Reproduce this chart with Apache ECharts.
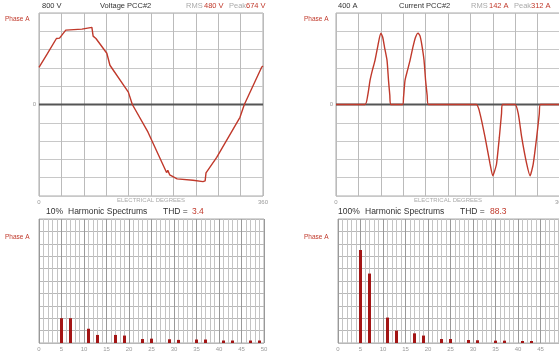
<!DOCTYPE html>
<html>
<head>
<meta charset="utf-8">
<script src="https://cdn.jsdelivr.net/npm/echarts@6/dist/echarts.min.js"></script>
<style>
  html, body { margin: 0; padding: 0; background: #fff; }
  #chart { width: 559px; height: 355px; }
</style>
</head>
<body>
<div id="chart"></div>
<script>
// voltage waveform, phase A (degrees / volts)
const voltageDeg = [0, 13, 28, 30.5, 33, 43, 69, 85, 87, 91.5, 109, 114, 143.6, 150, 175, 205, 207, 210, 222, 247.5, 263.6, 267, 268.4, 285.6, 323, 330, 358, 360]
const voltageVal = [325, 440, 577, 590, 580, 650, 659, 674, 598, 577, 448, 343, 108, 0, -240, -595, -576, -615, -650, -662, -674, -668, -598, -463, -112, 0, 328, 335]

// current waveform, phase A (degrees / amps)
const currentDeg = [0, 46.6, 51, 54.7, 58.5, 62.7, 67.5, 72, 75, 78, 82, 84.4, 86.5, 88,
  107, 108.5, 110.9, 115, 119, 124, 128, 132, 135, 138, 141.5, 144, 146.5, 148.5,
  225.5, 231.5, 239.6, 247.6, 252, 255, 258, 262.5, 266, 267.5,
  287.8, 293, 298.5, 306.5, 312, 314.5, 317, 322.5, 326.7, 328.5, 360]
const currentVal = [0, 0, 40, 105, 150, 193, 260, 312, 295, 250, 193, 105, 40, 0,
  0, 30, 105, 150, 193, 255, 295, 312, 300, 260, 193, 105, 40, 0,
  0, -41, -144, -260, -312, -290, -260, -144, -40, 0,
  0, -41, -144, -260, -312, -290, -260, -144, -41, 0, 0]

// harmonic spectra
const orders = [5, 7, 11, 13, 17, 19, 23, 25, 29, 31, 35, 37, 41, 43, 47, 49]
const voltageHarm = [2.0, 2.0, 1.15, 0.65, 0.65, 0.6, 0.32, 0.35, 0.3, 0.25, 0.28, 0.28, 0.2, 0.2, 0.2, 0.2]
const currentHarm = [75, 56, 20.5, 10, 7.8, 6, 3.2, 3.2, 2.4, 2.2, 1.9, 1.9, 1.6, 1.6, 0, 0]
const harmTicks = [0, 5, 10, 15, 20, 25, 30, 35, 40, 45, 50]

const RED = "#c0392b"
const GRAY = "#999"
const FONT = "Liberation Sans"

const zip = (a, b) => a.map((v, i) => [v, b[i]])

const chart = echarts.init(document.getElementById("chart"))

const waveX = (gi) => ({
  gridIndex: gi,
  type: "value",
  min: 0,
  max: 360,
  interval: 36,
  axisLine: { show: false },
  axisTick: { show: false },
  axisLabel: {
    color: GRAY, fontSize: 6, fontFamily: FONT, margin: 3,
    formatter: (v) => (v === 0 || v === 360 ? String(v) : ""),
  },
  splitLine: { lineStyle: { color: "#bbb", width: 1 } },
})

const waveY = (gi, max) => ({
  gridIndex: gi,
  type: "value",
  min: -max,
  max: max,
  interval: max / 5,
  axisLine: { show: false },
  axisTick: { show: false },
  axisLabel: {
    color: GRAY, fontSize: 6, fontFamily: FONT, margin: 3,
    formatter: (v) => (v === 0 ? "0" : ""),
  },
  splitLine: { lineStyle: { color: "#c8c8c8", width: 1 } },
})

const harmX = (gi) => ({
  gridIndex: gi,
  type: "value",
  min: 0,
  max: 50,
  interval: 5,
  axisLine: { show: false },
  axisTick: { show: false },
  axisLabel: {
    color: GRAY, fontSize: 6, fontFamily: FONT, margin: 3,
    formatter: (v) => (harmTicks.includes(v) ? String(v) : ""),
  },
  splitLine: { lineStyle: { color: "#999", width: 1 } },
  minorTick: { show: false, splitNumber: 5 },
  minorSplitLine: { show: true, lineStyle: { color: "#c4c4c4", width: 1 } },
})

const harmY = (gi, max) => ({
  gridIndex: gi,
  type: "value",
  min: 0,
  max: max,
  interval: max / 10,
  axisLine: { show: false },
  axisTick: { show: false },
  axisLabel: { show: false },
  splitLine: { lineStyle: { color: "#b8b8b8", width: 1 } },
})

// dark zero reference line drawn under the trace
const zeroSeries = (gi) => ({
  type: "line", xAxisIndex: gi, yAxisIndex: gi,
  data: [[0, 0], [360, 0]],
  symbol: "none",
  silent: true,
  lineStyle: { color: "#555", width: 2 },
  z: 2,
})

const txt = (text, x, y, opts = {}) => ({
  type: "text",
  x: x,
  y: y,
  silent: true,
  style: Object.assign({
    text: text,
    fill: "#333",
    fontSize: 7.5,
    fontFamily: FONT,
    verticalAlign: "middle",
  }, opts),
})

const gridBase = { show: true, borderColor: "#aaa", borderWidth: 1, containLabel: false, outerBoundsMode: "none" }

const option = {
  animation: false,
  grid: [
    Object.assign({ left: 39, top: 13, width: 224, height: 183 }, gridBase),
    Object.assign({ left: 336, top: 13, width: 224, height: 183 }, gridBase),
    Object.assign({ left: 39, top: 219, width: 225, height: 124 }, gridBase),
    Object.assign({ left: 338, top: 219, width: 225, height: 124 }, gridBase),
  ],
  xAxis: [waveX(0), waveX(1), harmX(2), harmX(3)],
  yAxis: [waveY(0, 800), waveY(1, 400), harmY(2, 10), harmY(3, 100)],
  series: [
    zeroSeries(0),
    zeroSeries(1),
    {
      type: "line", xAxisIndex: 0, yAxisIndex: 0,
      data: zip(voltageDeg, voltageVal),
      symbol: "none",
      lineStyle: { color: RED, width: 1.4 },
      z: 3,
    },
    {
      type: "line", xAxisIndex: 1, yAxisIndex: 1,
      data: zip(currentDeg, currentVal),
      symbol: "none",
      smooth: 0.2,
      lineStyle: { color: RED, width: 1.4 },
      z: 3,
    },
    {
      type: "bar", xAxisIndex: 2, yAxisIndex: 2,
      data: zip(orders, voltageHarm),
      barWidth: 3,
      itemStyle: { color: "#a31515" },
    },
    {
      type: "bar", xAxisIndex: 3, yAxisIndex: 3,
      data: zip(orders, currentHarm),
      barWidth: 3,
      itemStyle: { color: "#a31515" },
    },
  ],
  graphic: [
    // top-left titles
    txt("800 V", 42, 6),
    txt("Voltage PCC#2", 100, 6),
    txt("RMS", 186, 6, { fill: "#aaa" }),
    txt("480 V", 204, 6, { fill: RED }),
    txt("Peak", 229, 6, { fill: "#aaa" }),
    txt("674 V", 246, 6, { fill: RED }),
    txt("Phase A", 5, 19, { fill: RED, fontSize: 6.5 }),
    txt("ELECTRICAL DEGREES", 151, 200, { fill: "#aaa", fontSize: 6, align: "center" }),
    // top-right titles
    txt("400 A", 338, 6),
    txt("Current PCC#2", 399, 6),
    txt("RMS", 471, 6, { fill: "#aaa" }),
    txt("142 A", 489, 6, { fill: RED }),
    txt("Peak", 514, 6, { fill: "#aaa" }),
    txt("312 A", 531, 6, { fill: RED }),
    txt("Phase A", 304, 19, { fill: RED, fontSize: 6.5 }),
    txt("ELECTRICAL DEGREES", 448, 200, { fill: "#aaa", fontSize: 6, align: "center" }),
    // bottom-left titles
    txt("10%", 46, 212, { fontSize: 8.5 }),
    txt("Harmonic Spectrums", 68, 212, { fontSize: 8.5 }),
    txt("THD =", 163, 212, { fontSize: 8.5 }),
    txt("3.4", 192, 212, { fontSize: 8.5, fill: RED }),
    txt("Phase A", 5, 237, { fill: RED, fontSize: 6.5 }),
    // bottom-right titles
    txt("100%", 338, 212, { fontSize: 8.5 }),
    txt("Harmonic Spectrums", 365, 212, { fontSize: 8.5 }),
    txt("THD =", 460, 212, { fontSize: 8.5 }),
    txt("88.3", 490, 212, { fontSize: 8.5, fill: RED }),
    txt("Phase A", 304, 237, { fill: RED, fontSize: 6.5 }),
  ],
}

chart.setOption(option)
</script>
</body>
</html>
